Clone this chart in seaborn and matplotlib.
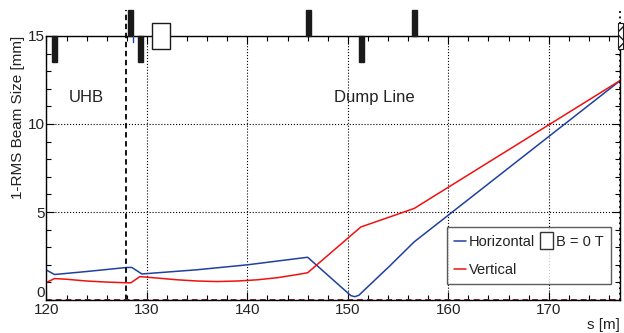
import numpy as np
import pandas as pd
import seaborn as sns
import matplotlib
matplotlib.use("Agg")
import matplotlib.pyplot as plt
from matplotlib.patches import Rectangle
from matplotlib.lines import Line2D
from matplotlib.legend_handler import HandlerPatch
from matplotlib.ticker import MultipleLocator

# beam size, horizontal plane
s_hor = [120.0, 120.8, 124.0, 128.0, 128.5, 129.5, 135.0, 140.0, 146.0,
         150.3, 150.7, 151.1, 154.2, 156.6, 177.2]
size_hor = [1.7, 1.45, 1.62, 1.85, 1.85, 1.48, 1.72, 2.0, 2.43,
            0.25, 0.19, 0.27, 1.95, 3.3, 12.5]

# beam size, vertical plane
s_ver = [120.0, 120.8, 122.0, 124.0, 126.0, 128.0, 128.4, 129.3, 131.0, 133.0,
         135.0, 137.0, 139.0, 141.0, 143.0, 145.0, 146.0, 151.3, 156.6, 177.2]
size_ver = [1.0, 1.22, 1.18, 1.08, 1.02, 0.98, 0.98, 1.33, 1.25, 1.15,
            1.08, 1.05, 1.08, 1.15, 1.27, 1.45, 1.55, 4.15, 5.2, 12.5]

# magnets drawn on the top axis
quad_up = [128.36, 146.07, 156.65]
quad_down = [120.8, 129.4, 151.33]
dipole_s = 131.4

y_ticks = [0, 5, 10, 15]

df = pd.concat([
    pd.DataFrame({"s": s_hor, "size": size_hor, "plane": "Horizontal"}),
    pd.DataFrame({"s": s_ver, "size": size_ver, "plane": "Vertical"}),
])

sns.set_style("ticks")
plt.rcParams["font.family"] = ["Liberation Sans", "DejaVu Sans"]
txt = "#222222"


class TallBox(HandlerPatch):
    # B = 0 T legend symbol is a tall open box
    def create_artists(self, legend, orig_handle, xdescent, ydescent,
                       width, height, fontsize, trans):
        w, h = 9.0, 12.0
        p = Rectangle((-xdescent + width - w, -ydescent + height / 2 - h / 2), w, h,
                      fc="white", ec="#333333", lw=1.0, transform=trans)
        return [p]


fig, ax = plt.subplots(figsize=(6.24, 3.33), dpi=100)
fig.subplots_adjust(left=0.0745, right=0.9936, bottom=0.099, top=0.892)

sns.lineplot(data=df, x="s", y="size", hue="plane", sort=False,
             palette={"Horizontal": "#2040a0", "Vertical": "#f01010"},
             lw=1.1, ax=ax, legend=False)

ax.set_xlim(120, 177.1)
ax.set_ylim(0, 15)
ax.xaxis.set_major_locator(MultipleLocator(10))
ax.xaxis.set_minor_locator(MultipleLocator(2))
ax.set_yticks(y_ticks)
ax.yaxis.set_minor_locator(MultipleLocator(1))
ax.tick_params(which="both", direction="in", top=True, right=True,
               labelsize=11, colors="black", labelcolor=txt, width=0.8)
ax.tick_params(which="major", length=6)
ax.tick_params(which="minor", length=3.5)
ax.tick_params(axis="x", pad=2)
ax.tick_params(axis="y", pad=1)
ax.grid(which="major", ls=":", color="black", lw=0.8)
for sp in ax.spines.values():
    sp.set_linewidth(1.0)
    sp.set_color("black")
# ROOT style: the 0 label sits a bit above the corner
ax.yaxis.get_major_ticks()[0].label1.set_verticalalignment("bottom")

ax.set_xlabel("s [m]", loc="right", fontsize=11, color=txt, labelpad=1)
ax.set_ylabel("1-RMS Beam Size [mm]", loc="top", fontsize=11, color=txt, labelpad=2)

ax.text(122.2, 11.5, "UHB", fontsize=12, color=txt, va="center")
ax.text(148.6, 11.5, "Dump Line", fontsize=12, color=txt, va="center")

# dashed section boundaries
ax.plot([127.9, 127.9], [0, 16.5], ls=(0, (3, 2)), color="black", lw=1.3, clip_on=False)
ax.plot([177.1, 177.1], [0, 16.5], ls=(0, (1, 2)), color="black", lw=1.3, clip_on=False)
ax.axhline(0, ls=(0, (3, 2)), color="#802040", lw=1.4)

# magnet lattice
for s in quad_up:
    ax.add_patch(Rectangle((s - 0.23, 15), 0.46, 1.5, color="#1a1a1a",
                           clip_on=False, zorder=5))
for s in quad_down:
    ax.add_patch(Rectangle((s - 0.25, 13.5), 0.5, 1.5, color="#1a1a1a",
                           clip_on=False, zorder=5))
ax.add_patch(Rectangle((dipole_s - 0.9, 14.24), 1.8, 1.52, fc="white", ec="#1a1a1a",
                       lw=1.0, clip_on=False, zorder=5))
ax.add_patch(Rectangle((176.95, 14.24), 0.4, 1.52, fc="white", ec="#1a1a1a",
                       hatch="xx", lw=0.8, clip_on=False, zorder=5))
ax.plot([128.57, 128.57], [15, 14.66], color="#2040a0", lw=1.0, zorder=6)

box = Rectangle((0, 0), 1, 1, fc="white", ec="#333333")
handles = [Line2D([], [], color="#2040a0", lw=1.1),
           Line2D([], [], color="#f01010", lw=1.1),
           box]
leg = ax.legend(handles, ["Horizontal", "Vertical", "B = 0 T"], ncol=2,
                loc="lower right", bbox_to_anchor=(0.984, 0.061), fontsize=10.5,
                frameon=True, fancybox=False, edgecolor="#333333",
                handlelength=0.85, handletextpad=0.2, columnspacing=0.35,
                borderpad=0.5, labelspacing=0.95, borderaxespad=0,
                handler_map={Rectangle: TallBox()})
leg.get_frame().set_linewidth(1.0)
for t in leg.get_texts():
    t.set_color(txt)

fig.savefig("out.png", dpi=100)
